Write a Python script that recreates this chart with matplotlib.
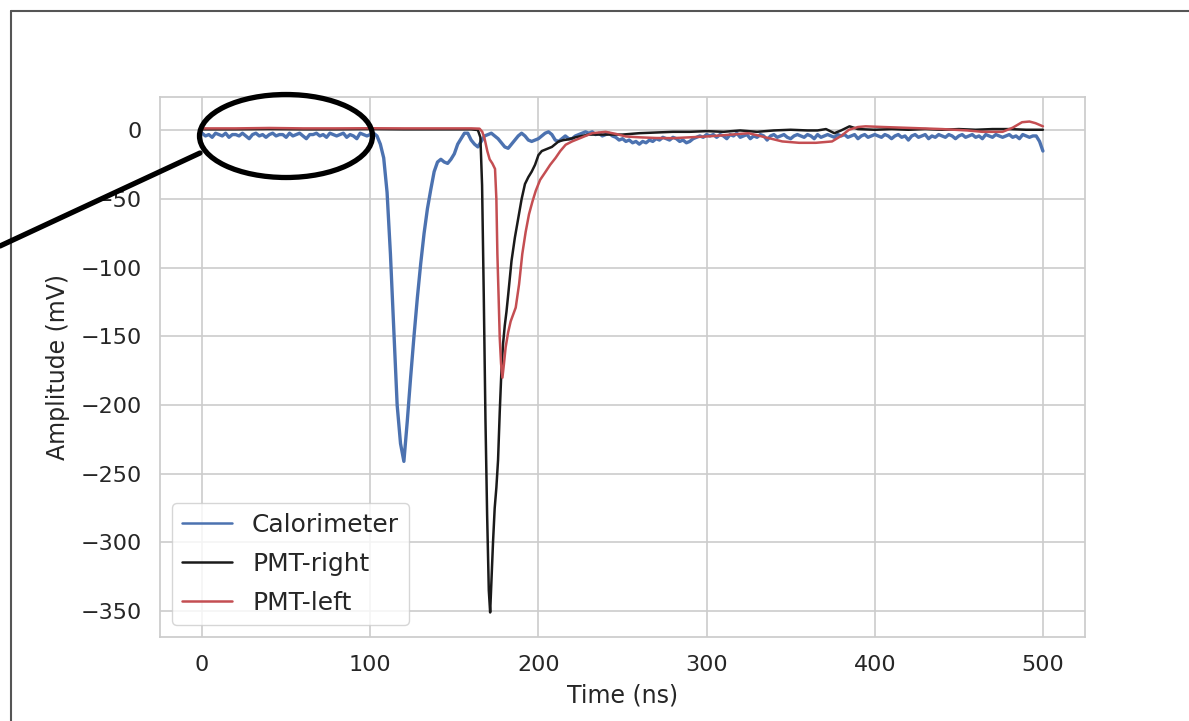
import numpy as np
import matplotlib
matplotlib.use("Agg")
import matplotlib.pyplot as plt
import seaborn as sns
from matplotlib.patches import Ellipse
from matplotlib.lines import Line2D

# ---------------- data ----------------
# Calorimeter trace (sampled every 2 ns)
cal_time_base = np.arange(0, 104, 2)      # 0 .. 102 ns
cal_amp_base = [
    -2, -4, -3, -5, -2, -3, -4, -2, -5, -3,
    -3, -4, -2, -4, -6, -3, -2, -4, -3, -5,
    -3, -2, -4, -3, -3, -5, -2, -4, -3, -2,
    -4, -6, -3, -3, -2, -4, -3, -5, -2, -3,
    -4, -3, -2, -5, -3, -4, -6, -2, -3, -4,
    -3, -2,
]
cal_time_pulse = np.arange(104, 302, 2)   # 104 .. 300 ns
cal_amp_pulse = [
    -4, -10, -20, -45, -90, -145, -200, -228, -241, -212,
    -180, -150, -122, -97, -75, -57, -43, -30, -23, -21,
    -23, -24, -21, -17, -10, -6, -2, -2, -7, -10,
    -12, -8, -4, -3, -2, -4, -6, -9, -12, -13,
    -10, -7, -4, -2, -4, -7, -8, -7, -6, -4,
    -2, -1, -3, -7, -8, -6, -4, -6, -6, -4,
    -3, -2, -1, -2, -1, -3, -2, -4, -3, -2,
    -4, -5, -7, -6, -8, -7, -9, -8, -10, -8,
    -9, -7, -8, -6, -7, -5, -6, -7, -5, -6,
    -8, -7, -9, -8, -6, -5, -4, -5, -3,
]
cal_time_tail = np.arange(302, 502, 2)    # 302 .. 500 ns
cal_amp_tail = [
    -4, -3, -5, -3, -4, -6, -3, -4, -2, -5,
    -4, -3, -6, -4, -5, -3, -4, -7, -4, -3,
    -5, -4, -3, -5, -6, -4, -3, -4, -5, -3,
    -4, -6, -3, -5, -4, -3, -4, -5, -3, -4,
    -3, -5, -4, -3, -6, -4, -3, -5, -4, -3,
    -4, -5, -3, -4, -6, -4, -3, -5, -4, -7,
    -4, -3, -5, -4, -3, -6, -4, -5, -3, -4,
    -5, -3, -4, -6, -4, -3, -5, -4, -3, -5,
    -4, -6, -3, -4, -5, -3, -4, -5, -4, -3,
    -5, -4, -6, -3, -4, -5, -4, -4, -8, -15,
]

# PMT-right
pmtr_time = [0, 20, 40, 60, 80, 100, 120, 140, 160, 164,
             165.5, 166.5, 167.5, 168.5, 169.5, 170.5, 171.3, 172, 173, 174,
             175, 176, 177, 178, 179, 180, 181, 182, 184, 186,
             188, 190, 192, 194, 196, 198, 200, 202, 204, 206,
             208, 210, 212, 215, 218, 222, 226, 230, 240, 250,
             260, 270, 280, 290, 300, 310, 320, 330, 340, 350,
             360, 366, 371, 376, 380, 385, 390, 400, 410, 420,
             430, 440, 450, 460, 470, 480, 490, 500]
pmtr_amp = [0.8, 0.8, 1, 0.8, 0.8, 1, 0.8, 0.8, 0.8, 0.3,
            -5, -40, -120, -210, -280, -335, -351, -330, -300, -275,
            -260, -240, -205, -175, -155, -142, -132, -120, -95, -78,
            -64, -50, -39, -34, -30, -25, -18, -15, -14, -13,
            -12, -10, -8, -7, -6.5, -5, -4, -3, -3, -3,
            -2, -1.5, -1, -1, -0.5, -1, 0, -1, 0, 0.5,
            0, 0, 1, -2, 0, 3, 1, 0.5, 1, 0.5,
            1, 0.5, 1, 0.5, 1, 1, 0.5, 0.5]

# PMT-left
pmtl_time = [0, 20, 40, 60, 80, 100, 120, 140, 160, 165,
             166.6, 168, 169.6, 171, 172.6, 174.2, 175, 175.6, 176.3, 177,
             177.8, 178.6, 179.5, 180.5, 182, 183.5, 185, 186.5, 188.5, 190.4,
             192.4, 194.4, 196.4, 198.4, 201, 204.3, 207, 210.2, 213, 216.2,
             220, 226, 232, 240, 246, 252, 260, 270, 280, 290,
             300, 310, 325, 337, 345, 355, 365, 374.6, 380, 384.7,
             390, 394.6, 405, 424, 440, 455, 464, 476, 482, 487.6,
             492, 495.6, 500]
pmtl_amp = [1.5, 1.5, 1.8, 1.5, 1.5, 1.6, 1.5, 1.5, 1.5, 1.3,
            -1, -6, -15, -21, -24, -28, -50, -90, -120, -151,
            -170, -180, -170, -158, -147, -139, -134, -129, -112, -90,
            -74, -61, -52, -44, -36, -30, -25, -20, -15, -10.4,
            -8, -5, -2, -1, -2.5, -4.4, -5, -5.5, -5.6, -5,
            -4.4, -3.5, -2, -5.6, -8, -9, -9, -8, -4, 0.5,
            2.5, 3, 2.5, 1.7, 1, 0, -1, -1, 2, 6,
            6.5, 5.3, 3]

labels = ["Calorimeter", "PMT-right", "PMT-left"]

# ---------------- plot ----------------
sns.set_style("whitegrid")
plt.rcParams["font.family"] = ["DejaVu Sans"]

fig = plt.figure(figsize=(11.89, 7.21), dpi=100)
ax = fig.add_axes([0.1346, 0.1165, 0.9125 - 0.1346, 0.8655 - 0.1165])

cal_time = np.concatenate([cal_time_base, cal_time_pulse, cal_time_tail])
cal_amp = np.concatenate([cal_amp_base, cal_amp_pulse, cal_amp_tail])

ax.plot(cal_time, cal_amp, color="#4c72b0", lw=2.4, label=labels[0])
ax.plot(pmtr_time, pmtr_amp, color="#1a1a1a", lw=1.8, label=labels[1])
ax.plot(pmtl_time, pmtl_amp, color="#c44e52", lw=1.8, label=labels[2])

ax.set_xlabel("Time (ns)", fontsize=17, color=".15", labelpad=6)
ax.set_ylabel("Amplitude (mV)", fontsize=17, color=".15", labelpad=8)
ax.tick_params(axis="both", labelsize=16, labelcolor=".15", length=0, pad=13)
for s in ax.spines.values():
    s.set_edgecolor(".8")
    s.set_linewidth(1.25)
ax.grid(True, color=".8", lw=1.2)

leg = ax.legend(loc="lower left", fontsize=17.9, frameon=True,
                labelspacing=0.6)
leg.get_frame().set_edgecolor(".8")
for t in leg.get_texts():
    t.set_color(".15")
for h in leg.get_lines():
    h.set_linewidth(1.8)

# annotation ellipse and pointer line (figure pixel-based coords)
W, H = 1189.0, 721.0
ell = Ellipse((286 / W, 1 - 136 / H), 173 / W, 83 / H, transform=fig.transFigure,
              fill=False, edgecolor="black", lw=3.8, zorder=10)
fig.add_artist(ell)
fig.add_artist(Line2D([200 / W, 0 / W], [1 - 153 / H, 1 - 246 / H],
                      transform=fig.transFigure, color="black", lw=3.8, zorder=10))

# screenshot border (top and left)
fig.add_artist(Line2D([11 / W, 1.0], [1 - 10.5 / H, 1 - 10.5 / H],
                      transform=fig.transFigure, color="#555555", lw=1.5))
fig.add_artist(Line2D([11 / W, 11 / W], [1 - 10.5 / H, 0.0],
                      transform=fig.transFigure, color="#555555", lw=1.5))

fig.savefig("out.png", dpi=100)
